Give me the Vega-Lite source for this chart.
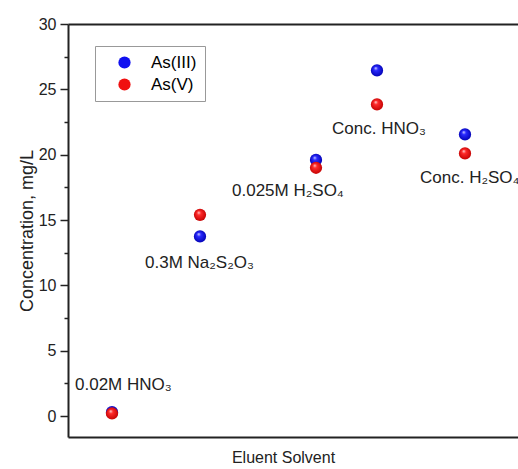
{
  "$schema": "https://vega.github.io/schema/vega-lite/v6.json",
  "width": 450,
  "height": 413,
  "autosize": {"type": "pad"},
  "padding": {"left": 18, "top": 16, "right": 0, "bottom": 5},
  "config": {
    "font": "Liberation Sans",
    "view": {"stroke": null},
    "axis": {"grid": false, "titleFontWeight": "normal", "labelColor": "#222", "titleColor": "#222", "tickColor": "#222", "domainColor": "#222"}
  },
  "datasets": {
    "points": [
      {"solvent": "0.02M HNO3", "pos": 4.4, "series": "As(III)", "conc": 0.3},
      {"solvent": "0.02M HNO3", "pos": 4.4, "series": "As(V)", "conc": 0.2},
      {"solvent": "0.3M Na2S2O3", "pos": 13.2, "series": "As(III)", "conc": 13.75},
      {"solvent": "0.3M Na2S2O3", "pos": 13.2, "series": "As(V)", "conc": 15.4},
      {"solvent": "0.025M H2SO4", "pos": 24.8, "series": "As(III)", "conc": 19.6},
      {"solvent": "0.025M H2SO4", "pos": 24.8, "series": "As(V)", "conc": 19.0},
      {"solvent": "Conc. HNO3", "pos": 30.9, "series": "As(III)", "conc": 26.45},
      {"solvent": "Conc. HNO3", "pos": 30.9, "series": "As(V)", "conc": 23.85},
      {"solvent": "Conc. H2SO4", "pos": 39.7, "series": "As(III)", "conc": 21.55},
      {"solvent": "Conc. H2SO4", "pos": 39.7, "series": "As(V)", "conc": 20.1}
    ],
    "labels": [
      {"label": "0.02M HNO₃", "lx": 0.7, "ly": 2.35},
      {"label": "0.3M Na₂S₂O₃", "lx": 7.7, "ly": 11.75},
      {"label": "0.025M H₂SO₄", "lx": 16.4, "ly": 17.2},
      {"label": "Conc. HNO₃", "lx": 26.4, "ly": 21.95},
      {"label": "Conc. H₂SO₄", "lx": 35.2, "ly": 18.2}
    ]
  },
  "resolve": {"axis": {"y": "independent", "x": "independent"}},
  "layer": [
    {
      "data": {"name": "points"},
      "transform": [{"filter": "datum.series === 'As(III)'"}],
      "mark": {
        "type": "point", "filled": true, "size": 150, "opacity": 1,
        "fill": {"gradient": "radial", "x1": 0.38, "y1": 0.3, "r1": 0, "x2": 0.5, "y2": 0.5, "r2": 0.55,
          "stops": [{"offset": 0, "color": "#e0e0ff"}, {"offset": 0.3, "color": "#2a2aff"}, {"offset": 1, "color": "#0000b0"}]}
      },
      "encoding": {
        "x": {"field": "pos", "type": "quantitative", "scale": {"domain": [0, 45], "nice": false, "zero": false},
          "axis": {"orient": "bottom", "ticks": false, "labels": false, "domain": true, "domainWidth": 2, "title": "Eluent Solvent", "titleFontSize": 16, "titlePadding": 12, "titleX": 215}},
        "y": {"field": "conc", "type": "quantitative", "scale": {"domain": [-1.6, 30], "nice": false, "zero": false},
          "axis": {"orient": "left", "values": [0, 5, 10, 15, 20, 25, 30], "tickSize": 8, "tickWidth": 1.5, "domainWidth": 2, "labelFontSize": 16, "labelPadding": 4,
            "title": "Concentration, mg/L", "titleFontSize": 18, "titlePadding": 2}},
        "color": {"field": "series", "type": "nominal",
          "scale": {"domain": ["As(III)", "As(V)"], "range": ["#1010f0", "#f01010"]},
          "legend": {"orient": "none", "legendX": 27, "legendY": 22, "title": null, "strokeColor": "#999", "fillColor": "white",
            "padding": 8, "symbolSize": 150, "symbolType": "circle", "labelFontSize": 17, "rowPadding": 4, "symbolOffset": 13, "labelOffset": 18}}
      }
    },
    {
      "data": {"name": "points"},
      "transform": [{"filter": "datum.series === 'As(V)'"}],
      "mark": {
        "type": "point", "filled": true, "size": 150, "opacity": 1,
        "fill": {"gradient": "radial", "x1": 0.38, "y1": 0.3, "r1": 0, "x2": 0.5, "y2": 0.5, "r2": 0.55,
          "stops": [{"offset": 0, "color": "#ffe0e0"}, {"offset": 0.3, "color": "#ff2a2a"}, {"offset": 1, "color": "#c00000"}]}
      },
      "encoding": {
        "x": {"field": "pos", "type": "quantitative",
          "axis": {"orient": "top", "ticks": false, "labels": false, "domain": true, "domainWidth": 2, "title": null}},
        "y": {"field": "conc", "type": "quantitative",
          "axis": {"orient": "left", "values": [2.5, 7.5, 12.5, 17.5, 22.5, 27.5], "tickSize": 4, "tickWidth": 1.5, "labels": false, "domain": false, "title": null}},
        "color": {"field": "series", "type": "nominal"}
      }
    },
    {
      "data": {"name": "labels"},
      "mark": {"type": "text", "align": "left", "baseline": "middle", "fontSize": 17, "color": "#222"},
      "encoding": {
        "x": {"field": "lx", "type": "quantitative", "axis": null},
        "y": {"field": "ly", "type": "quantitative", "axis": null},
        "text": {"field": "label"}
      }
    }
  ]
}
